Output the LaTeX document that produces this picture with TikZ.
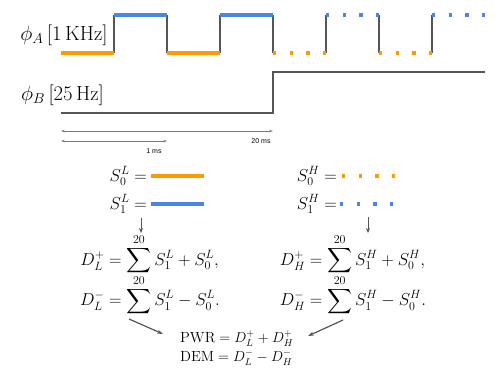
\documentclass[tikz,border=0pt]{standalone}
\usepackage{amsmath}
\usepackage{fontspec}
\setsansfont{Liberation Sans}
\usetikzlibrary{arrows.meta}
\definecolor{sigorange}{RGB}{255,153,0}
\definecolor{sigblue}{RGB}{74,134,232}
\definecolor{edgegray}{RGB}{85,85,85}
\definecolor{axisgray}{RGB}{120,120,120}
\begin{document}
\begin{tikzpicture}[x=1pt,y=-1pt,
  lowline/.style={sigorange,line width=3.5pt},
  highline/.style={sigblue,line width=3.5pt},
  dotpat/.style={dash pattern=on 3.2pt off 13.47pt},
  edgeline/.style={edgegray,line width=1.2pt},
  bline/.style={edgegray,line width=2pt},
  timearrow/.style={axisgray,line width=0.6pt,{Stealth[length=3.5pt,width=2.5pt,open]}-{Stealth[length=3.5pt,width=2.5pt,open]}},
  small/.style={font=\sffamily\fontsize{7}{8}\selectfont,inner sep=0pt},
  siglabel/.style={font=\fontsize{20.5}{24}\selectfont,inner sep=0pt},
  eq/.style={font=\fontsize{17}{20}\selectfont,inner sep=0pt},
  res/.style={font=\fontsize{14.7}{19}\selectfont,inner sep=0pt,align=left},
  flow/.style={edgegray,line width=1.2pt,-{Stealth[length=6pt,width=4pt]}},
  flowsmall/.style={edgegray,line width=0.9pt,-{Stealth[length=5pt,width=4pt]}}
]
\useasboundingbox (0,0) rectangle (500,375);

% signal A: transitions (gray verticals)
\foreach \x in {114,167,220,273,326,379,432}
  \draw[edgeline] (\x,53) -- (\x,15);
% solid low/high
\draw[lowline] (61,53) -- (114,53);
\draw[highline] (114,15) -- (167,15);
\draw[lowline] (167,53) -- (220,53);
\draw[highline] (220,15) -- (273,15);
% dotted low/high
\draw[lowline,dotpat] (273,53) -- (326,53);
\draw[highline,dotpat] (326,15) -- (379,15);
\draw[lowline,dotpat] (379,53) -- (432,53);
\draw[highline,dotpat] (432,15) -- (485,15);

% signal B
\draw[bline] (61,113) -- (273,113) -- (273,72) -- (485,72);

% labels
\node[siglabel] (phia) at (64,35) {$\phi_A\,[1\,\mathrm{KHz}]$};
\node[siglabel] (phib) at (62.5,95) {$\phi_B\,[25\,\mathrm{Hz}]$};

% time arrows
\coordinate (t0a) at (61,131);
\coordinate (t1a) at (273,131);
\coordinate (t0b) at (61,141);
\coordinate (t1b) at (167,141);
\draw[timearrow] (t0a) -- (t1a);
\draw[timearrow] (t0b) -- (t1b);
\node[small] (ms20) at (261,141.5) {20 ms};
\node[small] (ms1) at (154,151.5) {1 ms};

% legend left
\node[eq,anchor=base east] (s0l) at (147,181) {$S_0^L =$};
\node[eq,anchor=base east] (s1l) at (147,209) {$S_1^L =$};
\draw[lowline] (151,176) -- (204,176);
\draw[highline] (151,204) -- (204,204);
% legend right
\node[eq,anchor=base east] (s0h) at (337,181) {$S_0^H =$};
\node[eq,anchor=base east] (s1h) at (337,209) {$S_1^H =$};
\draw[lowline,dotpat] (342,176) -- (395,176);
\draw[highline,dotpat] (340,204) -- (393,204);

% down arrows
\coordinate (al0) at (141,218);
\coordinate (al1) at (141,233);
\coordinate (ah0) at (368,217);
\coordinate (ah1) at (368,233);
\draw[flowsmall] (al0) -- (al1);
\draw[flowsmall] (ah0) -- (ah1);

% equations (one node per pair, aligned at =)
\node[eq,anchor=north] (dl) at (150,234) {$\begin{aligned}
  D_L^+ &= \sum^{20} S_1^L + S_0^L,\\[-4pt]
  D_L^- &= \sum^{20} S_1^L - S_0^L.
\end{aligned}$};
\node[eq,anchor=north] (dh) at (353,234) {$\begin{aligned}
  D_H^+ &= \sum^{20} S_1^H + S_0^H,\\[-4pt]
  D_H^- &= \sum^{20} S_1^H - S_0^H.
\end{aligned}$};

% result
\node[res,anchor=base west] (pwr) at (180,342) {$\mathrm{PWR} = D_L^+ + D_H^+$};
\node[res,anchor=base west] (dem) at (180,361) {$\mathrm{DEM} = D_L^- - D_H^-$};

\coordinate (bl0) at (129,319);
\coordinate (bl1) at (163,334);
\coordinate (br0) at (343,320);
\coordinate (br1) at (308,336);
\draw[flow] (bl0) -- (bl1);
\draw[flow] (br0) -- (br1);
\end{tikzpicture}
\end{document}
